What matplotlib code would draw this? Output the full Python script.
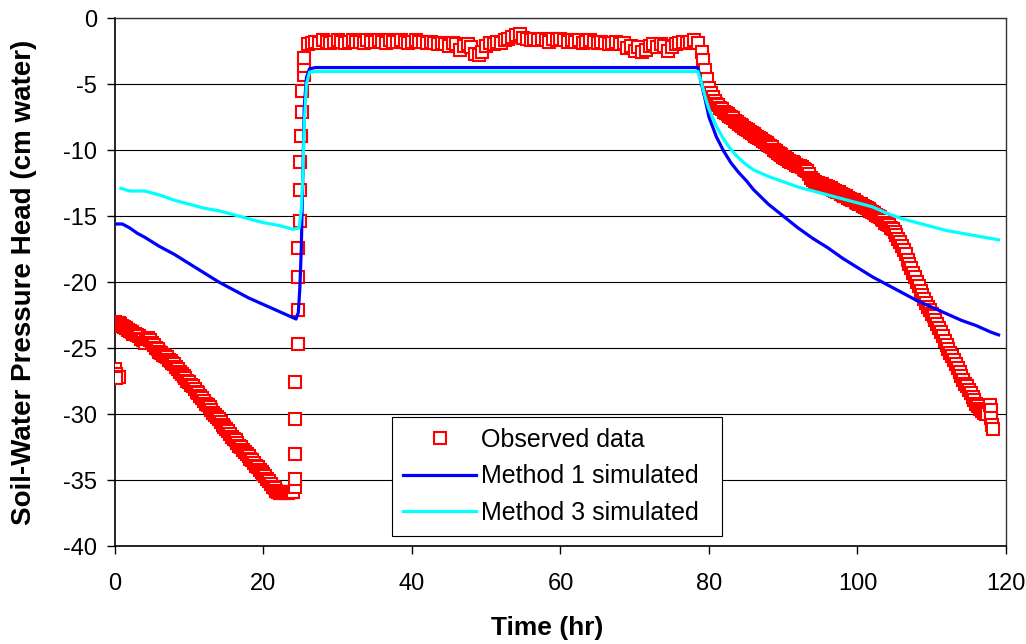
import matplotlib
matplotlib.use("Agg")
import matplotlib.pyplot as plt

plt.rcParams['font.family'] = ['Liberation Sans', 'DejaVu Sans']
plt.rcParams['axes.unicode_minus'] = False

# Observed data, read off the figure (time in hr, head in cm water)
# first few readings at t=0
start_time = [0.0, 0.2, 0.5, 0.1]
start_head = [-26.6, -27.0, -27.2, -27.3]

# drainage before the wetting event
drain_time = [
    0.0, 0.25, 0.5, 0.75, 1.0, 1.25, 1.5, 1.75, 2.0, 2.25, 2.5, 2.75,
    3.0, 3.25, 3.5, 3.75, 4.0, 4.25, 4.5, 4.75, 5.0, 5.25, 5.5, 5.75,
    6.0, 6.25, 6.5, 6.75, 7.0, 7.25, 7.5, 7.75, 8.0, 8.25, 8.5, 8.75,
    9.0, 9.25, 9.5, 9.75, 10.0, 10.25, 10.5, 10.75, 11.0, 11.25, 11.5, 11.75,
    12.0, 12.25, 12.5, 12.75, 13.0, 13.25, 13.5, 13.75, 14.0, 14.25, 14.5, 14.75,
    15.0, 15.25, 15.5, 15.75, 16.0, 16.25, 16.5, 16.75, 17.0, 17.25, 17.5, 17.75,
    18.0, 18.25, 18.5, 18.75, 19.0, 19.25, 19.5, 19.75, 20.0, 20.25, 20.5, 20.75,
    21.0, 21.25, 21.5, 21.75, 22.0, 22.25, 22.5, 22.75, 23.0, 23.25, 23.5, 23.75,
    24.0,
]
drain_head = [
    -23.0, -23.1, -23.1, -23.2, -23.3, -23.4, -23.5, -23.6, -23.7, -23.8, -23.9, -23.9,
    -24.0, -24.1, -24.3, -24.4, -24.6, -24.3, -24.2, -24.4, -24.6, -24.8, -25.0, -25.1,
    -25.3, -25.4, -25.5, -25.6, -25.7, -25.9, -26.0, -26.1, -26.2, -26.4, -26.6, -26.8,
    -27.0, -27.1, -27.3, -27.5, -27.6, -27.8, -27.9, -28.1, -28.3, -28.4, -28.6, -28.8,
    -29.0, -29.2, -29.3, -29.5, -29.7, -29.9, -30.1, -30.2, -30.4, -30.6, -30.8, -31.0,
    -31.1, -31.3, -31.5, -31.7, -31.9, -32.0, -32.2, -32.4, -32.5, -32.7, -32.9, -33.0,
    -33.2, -33.4, -33.5, -33.7, -33.9, -34.0, -34.2, -34.4, -34.5, -34.7, -34.9, -35.1,
    -35.3, -35.5, -35.6, -35.8, -35.9, -36.0, -36.0, -36.0, -36.0, -36.0, -35.9, -35.9,
    -35.9,
]

# fast wetting front
rise_time = [24.2, 24.2, 24.3, 24.3, 24.3, 24.6, 24.6, 24.6, 24.6, 24.9, 24.9,
             24.9, 25.1, 25.2, 25.2, 25.4, 25.4, 25.5]
rise_head = [-35.5, -34.9, -33.0, -30.4, -27.6, -24.7, -22.1, -19.6, -17.4,
             -15.4, -13.0, -10.9, -8.9, -7.1, -5.5, -4.3, -3.6, -3.0]

# ponded plateau
plateau_time = [
    26.0, 26.5, 27.0, 27.5, 28.0, 28.5, 29.0, 29.5, 30.0, 30.5, 31.0, 31.5,
    32.0, 32.5, 33.0, 33.5, 34.0, 34.5, 35.0, 35.5, 36.0, 36.5, 37.0, 37.5,
    38.0, 38.5, 39.0, 39.5, 40.0, 40.5, 41.0, 41.5, 42.0, 42.5, 43.0, 43.5,
    44.0, 44.5, 45.0, 45.5, 46.0, 46.5, 47.0, 47.5, 48.0, 48.5, 49.0, 49.5,
    50.0, 50.5, 51.0, 51.5, 52.0, 52.5, 53.0, 53.5, 54.0, 54.5, 55.0, 55.5,
    56.0, 56.5, 57.0, 57.5, 58.0, 58.5, 59.0, 59.5, 60.0, 60.5, 61.0, 61.5,
    62.0, 62.5, 63.0, 63.5, 64.0, 64.5, 65.0, 65.5, 66.0, 66.5, 67.0, 67.5,
    68.0, 68.5, 69.0, 69.5, 70.0, 70.5, 71.0, 71.5, 72.0, 72.5, 73.0, 73.5,
    74.0, 74.5, 75.0, 75.5, 76.0, 76.5, 77.0, 77.5, 78.0, 78.5,
]
plateau_head = [
    -2.0, -1.9, -1.8, -1.9, -1.7, -1.8, -1.9, -1.8, -1.7, -1.8, -1.9, -1.8,
    -1.7, -1.8, -1.8, -1.9, -1.7, -1.8, -1.8, -1.7, -1.8, -1.9, -1.7, -1.8,
    -1.8, -1.7, -1.8, -1.9, -1.8, -1.7, -1.8, -1.8, -1.9, -1.8, -1.9, -2.0,
    -1.9, -2.0, -2.1, -1.9, -2.0, -2.4, -2.1, -2.0, -2.2, -2.7, -2.8, -2.6,
    -2.1, -1.9, -2.0, -1.8, -1.9, -1.7, -1.6, -1.4, -1.3, -1.2, -1.5, -1.6,
    -1.7, -1.6, -1.7, -1.6, -1.7, -1.8, -1.6, -1.7, -1.6, -1.7, -1.8, -1.7,
    -1.8, -1.7, -1.9, -1.8, -1.7, -1.8, -1.9, -1.8, -1.9, -2.0, -1.9, -1.8,
    -2.0, -1.9, -2.3, -2.1, -2.5, -2.2, -2.6, -2.4, -2.1, -2.0, -2.2, -2.0,
    -2.1, -2.5, -2.2, -2.0, -1.9, -1.8, -1.9, -1.8, -1.7, -1.9,
]

# drying after ponding ended
dry_time = [
    79.0, 79.25, 79.5, 79.75, 80.0, 80.25, 80.5, 80.75, 81.0, 81.25, 81.5, 81.75,
    82.0, 82.25, 82.5, 82.75, 83.0, 83.25, 83.5, 83.75, 84.0, 84.25, 84.5, 84.75,
    85.0, 85.25, 85.5, 85.75, 86.0, 86.25, 86.5, 86.75, 87.0, 87.25, 87.5, 87.75,
    88.0, 88.25, 88.5, 88.75, 89.0, 89.25, 89.5, 89.75, 90.0, 90.25, 90.5, 90.75,
    91.0, 91.25, 91.5, 91.75, 92.0, 92.25, 92.5, 92.75, 93.0, 93.25, 93.5, 93.75,
    94.0, 94.25, 94.5, 94.75, 95.0, 95.25, 95.5, 95.75, 96.0, 96.25, 96.5, 96.75,
    97.0, 97.25, 97.5, 97.75, 98.0, 98.25, 98.5, 98.75, 99.0, 99.25, 99.5, 99.75,
    100.0, 100.25, 100.5, 100.75, 101.0, 101.25, 101.5, 101.75, 102.0, 102.25,
    102.5, 102.75, 103.0, 103.25, 103.5, 103.75, 104.0, 104.25, 104.5, 104.75,
    105.0, 105.25, 105.5, 105.75, 106.0, 106.25, 106.5, 106.75, 107.0, 107.25,
    107.5, 107.75, 108.0, 108.25, 108.5, 108.75, 109.0, 109.25, 109.5, 109.75,
    110.0, 110.25, 110.5, 110.75, 111.0, 111.25, 111.5, 111.75, 112.0, 112.25,
    112.5, 112.75, 113.0, 113.25, 113.5, 113.75, 114.0, 114.25, 114.5, 114.75,
    115.0, 115.25, 115.5, 115.75, 116.0, 116.25, 116.5, 116.75, 117.0, 117.25,
    117.5, 117.9, 118.0, 118.0, 118.1, 118.2,
]
dry_head = [
    -2.6, -3.2, -3.9, -4.6, -5.3, -5.7, -6.0, -6.3, -6.5, -6.6, -6.8, -6.9,
    -7.1, -7.2, -7.3, -7.4, -7.5, -7.6, -7.8, -7.9, -8.0, -8.1, -8.2, -8.3,
    -8.4, -8.5, -8.6, -8.7, -8.8, -8.9, -9.0, -9.1, -9.2, -9.3, -9.4, -9.5,
    -9.6, -9.7, -9.8, -10.0, -10.1, -10.2, -10.3, -10.4, -10.5, -10.6, -10.7, -10.8,
    -10.9, -10.9, -11.0, -11.1, -11.2, -11.2, -11.3, -11.4, -11.5, -11.6, -11.8, -12.1,
    -12.3, -12.4, -12.5, -12.5, -12.6, -12.6, -12.7, -12.7, -12.8, -12.9, -12.9, -13.0,
    -13.1, -13.2, -13.2, -13.3, -13.4, -13.5, -13.5, -13.6, -13.7, -13.8, -13.8, -13.9,
    -14.0, -14.1, -14.1, -14.2, -14.3, -14.4, -14.5, -14.6, -14.7, -14.8,
    -14.9, -15.0, -15.1, -15.2, -15.3, -15.5, -15.6, -15.7, -15.9, -16.0,
    -16.2, -16.4, -16.7, -17.0, -17.3, -17.6, -17.9, -18.3, -18.6, -18.9,
    -19.3, -19.6, -20.0, -20.3, -20.7, -21.0, -21.3, -21.6, -21.9, -22.1,
    -22.4, -22.6, -22.9, -23.2, -23.5, -23.8, -24.1, -24.5, -24.8, -25.1,
    -25.4, -25.6, -25.9, -26.2, -26.5, -26.8, -27.1, -27.4, -27.7, -27.9,
    -28.2, -28.4, -28.7, -28.9, -29.2, -29.4, -29.6, -29.8, -29.9, -30.0,
    -30.0, -29.3, -29.7, -30.3, -30.8, -31.1,
]

obs_time = start_time + drain_time + rise_time + plateau_time + dry_time
obs_head = start_head + drain_head + rise_head + plateau_head + dry_head

# Method 1 simulated
m1_time = [0.0, 1.0, 2.0, 3.0, 4.0, 6.0, 8.0, 10.0, 12.0, 14.0, 16.0, 18.0,
           20.0, 22.0, 24.0, 24.4, 24.7, 24.9, 25.1, 25.3, 25.5, 25.8, 26.2,
           27.0, 40.0, 60.0, 78.5, 79.0, 79.5, 80.0, 81.0, 82.0, 83.0, 84.0,
           85.0, 86.0, 88.0, 90.0, 92.0, 94.0, 96.0, 98.0, 100.0, 102.0,
           104.0, 106.0, 108.0, 110.0, 112.0, 114.0, 116.0, 118.0, 119.0]
m1_head = [-15.6, -15.6, -15.9, -16.3, -16.6, -17.3, -17.9, -18.6, -19.3,
           -20.0, -20.6, -21.2, -21.7, -22.2, -22.7, -22.8, -22.3, -20.5,
           -17.5, -12.1, -6.7, -4.5, -3.85, -3.75, -3.75, -3.75, -3.75, -5.0,
           -6.2, -7.5, -9.0, -10.1, -11.0, -11.7, -12.3, -13.0, -14.1, -15.0,
           -15.9, -16.7, -17.4, -18.2, -18.9, -19.6, -20.2, -20.8, -21.4,
           -21.9, -22.4, -22.9, -23.3, -23.8, -24.0]

# Method 3 simulated
m3_time = [0.8, 2.0, 4.0, 6.0, 8.0, 10.0, 12.0, 14.0, 16.0, 18.0, 20.0, 22.0,
           24.0, 24.8, 25.1, 25.3, 25.5, 25.8, 26.2, 27.0, 40.0, 60.0, 78.5,
           79.0, 79.5, 80.0, 81.0, 82.0, 83.0, 84.0, 85.0, 86.0, 88.0, 90.0,
           92.0, 94.0, 96.0, 98.0, 100.0, 102.0, 104.0, 106.0, 108.0, 110.0,
           112.0, 114.0, 116.0, 118.0, 119.0]
m3_head = [-12.9, -13.1, -13.1, -13.4, -13.8, -14.1, -14.4, -14.6, -14.9,
           -15.2, -15.5, -15.7, -16.0, -15.9, -14.5, -12.1, -8.0, -5.0, -4.1,
           -4.05, -4.05, -4.05, -4.05, -4.9, -6.0, -6.9, -8.2, -9.2, -10.0,
           -10.6, -11.1, -11.5, -12.0, -12.4, -12.8, -13.1, -13.4, -13.7,
           -14.0, -14.3, -14.8, -15.2, -15.5, -15.8, -16.1, -16.3, -16.5,
           -16.7, -16.8]

fig = plt.figure(figsize=(10.26, 6.44), dpi=100)
ax = fig.add_axes([0.112, 0.152, 0.8685, 0.82])

ax.plot(obs_time, obs_head, linestyle='none', marker='s', markersize=8,
        markerfacecolor='white', markeredgecolor='#FF0000', markeredgewidth=1.5,
        label='Observed data', zorder=3)
ax.plot(m1_time, m1_head, color='#0000FF', linewidth=2.3, label='Method 1 simulated', zorder=4)
ax.plot(m3_time, m3_head, color='#00FFFF', linewidth=2.3, label='Method 3 simulated', zorder=4)

ax.set_xlim(0, 120)
ax.set_ylim(-40, 0)
ax.set_xticks(range(0, 121, 20))
ax.set_yticks(range(-40, 1, 5))
ax.yaxis.grid(True, color='black', linewidth=0.8)
ax.set_axisbelow(True)

for side in ['left', 'bottom']:
    ax.spines[side].set_linewidth(1.2)
    ax.spines[side].set_color('black')
for side in ['top', 'right']:
    ax.spines[side].set_linewidth(1.0)
    ax.spines[side].set_color('#333333')

ax.tick_params(axis='both', labelsize=17, direction='out', length=6, width=1)
ax.tick_params(axis='x', pad=13)
ax.tick_params(axis='y', pad=7)

ax.set_xlabel('Time (hr)', fontsize=19, fontweight='bold')
ax.set_ylabel('Soil-Water Pressure Head (cm water)', fontsize=20, fontweight='bold')
ax.xaxis.label.set_va('center')
ax.yaxis.label.set_va('center')
ax.xaxis.set_label_coords(0.485, -0.155)
ax.yaxis.set_label_coords(-0.1016, 0.5)

leg = ax.legend(loc='lower left', bbox_to_anchor=(0.311, 0.019, 0.370, 0.2),
                mode='expand', fontsize=18, frameon=True, fancybox=False,
                edgecolor='black', framealpha=1, handlelength=2.9,
                handletextpad=0.2, labelspacing=0.5, borderpad=0.45,
                borderaxespad=0)
leg.get_frame().set_linewidth(0.8)

fig.savefig('out.png', dpi=100)
